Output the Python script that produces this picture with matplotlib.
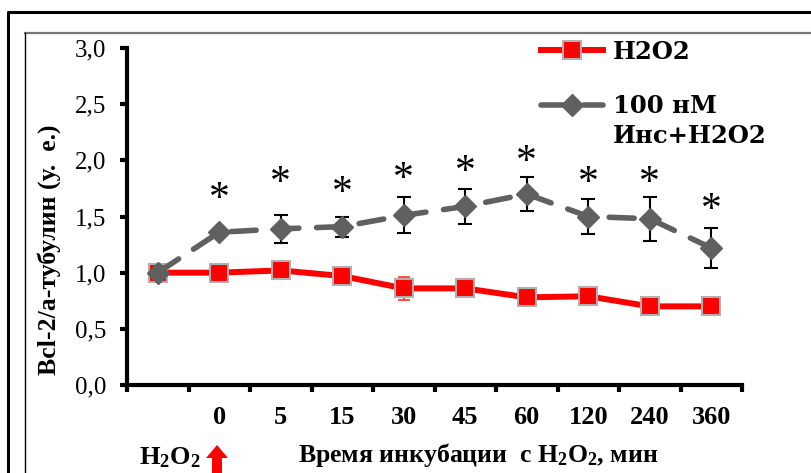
import matplotlib
matplotlib.use('Agg')
import matplotlib.pyplot as plt
from matplotlib.lines import Line2D
import numpy as np

plt.rcParams['font.family'] = 'Liberation Serif'
plt.rcParams['mathtext.fontset'] = 'custom'
plt.rcParams['mathtext.rm'] = 'Liberation Serif:bold'
plt.rcParams['mathtext.bf'] = 'Liberation Serif:bold'
plt.rcParams['mathtext.it'] = 'Liberation Serif:bold'

# данные
time_labels = ['', '0', '5', '15', '30', '45', '60', '120', '240', '360']
h2o2 = [1.00, 1.00, 1.02, 0.97, 0.86, 0.86, 0.78, 0.79, 0.70, 0.70]
h2o2_err = [0.03, 0.03, 0.04, 0.04, 0.10, 0.04, 0.05, 0.04, 0.03, 0.03]
ins = [1.00, 1.36, 1.39, 1.41, 1.51, 1.59, 1.70, 1.50, 1.48, 1.22]
ins_err = [0.03, 0.03, 0.125, 0.09, 0.16, 0.155, 0.155, 0.155, 0.195, 0.18]
star_y = [None, 1.65, 1.79, 1.70, 1.83, 1.89, 1.98, 1.79, 1.79, 1.55]

x = np.arange(len(time_labels))

fig = plt.figure(figsize=(8.11, 4.73), dpi=100)
ax = fig.add_axes([127 / 811, 1 - 385 / 473, (742 - 127) / 811, (385 - 48) / 473])

# рамки
fig.add_artist(Line2D([8 / 811, 8 / 811, 1], [0, 1 - 12 / 473, 1 - 12 / 473],
                      transform=fig.transFigure, color='black', lw=2.2))
fig.add_artist(Line2D([25 / 811, 1], [1 - 33 / 473, 1 - 33 / 473],
                      transform=fig.transFigure, color='#777777', lw=1.6))
fig.add_artist(Line2D([25 / 811, 25 / 811], [0, 1 - 33 / 473],
                      transform=fig.transFigure, color='black', lw=1.0))

ax.errorbar(x, h2o2, yerr=h2o2_err, fmt='none', ecolor='#ff3030', elinewidth=1.2,
            capsize=4, capthick=1.2, zorder=2)
ax.errorbar(x, ins, yerr=ins_err, fmt='none', ecolor='black', elinewidth=1.5,
            capsize=5, capthick=1.5, zorder=2)
ax.plot(x, h2o2, color='#ff0000', lw=4.3, marker='s', ms=13, mfc='#ff0000',
        mec='#b0b0b0', mew=1.5, label='H2O2', zorder=3)
ax.plot(x, ins, color='#606060', lw=4, ls=(0, (4.5, 3.2)), marker='D', ms=11.5,
        mfc='#606060', mec='#606060', label='100 нМ', zorder=4,
        dash_capstyle='round')

for xi, sy in zip(x, star_y):
    if sy is not None:
        ax.text(xi, sy, '*', ha='center', va='center', fontsize=30, color='black')

ax.set_xlim(-0.5, len(x) - 0.5)
ax.set_ylim(0, 3.0)
ax.set_yticks(np.arange(0, 3.01, 0.5))
ax.set_yticklabels([f'{v:.1f}'.replace('.', ',') for v in np.arange(0, 3.01, 0.5)],
                   fontsize=18)
ax.set_xticks(x)
ax.set_xticklabels(time_labels, fontsize=19, fontweight='bold')
ax.set_xticks(np.arange(-0.5, len(x)), minor=True)
ax.tick_params(axis='x', which='major', length=0, pad=15)
ax.tick_params(axis='x', which='minor', length=5, width=3, direction='out')
ax.tick_params(axis='y', length=5, width=3, direction='out', pad=10)

for s in ['top', 'right']:
    ax.spines[s].set_visible(False)
for s in ['left', 'bottom']:
    ax.spines[s].set_linewidth(3)

leg_font = {'family': 'DejaVu Serif', 'weight': 'bold', 'size': 17.5}
leg = ax.legend(loc='upper left', bbox_to_anchor=(541 / 811, 1 - 40 / 473),
                bbox_transform=fig.transFigure, frameon=False, prop=leg_font,
                handlelength=2.55, labelspacing=1.25, handletextpad=0.4,
                borderpad=0, borderaxespad=0)

# вторая строка подписи второй серии
fig.canvas.draw()
bb = leg.get_texts()[1].get_window_extent()
fig.text(bb.x0 / fig.bbox.width, (bb.y0 - 18) / fig.bbox.height, 'Инс+H2O2',
         ha='left', va='center', fontfamily='DejaVu Serif', fontweight='bold',
         fontsize=17.5)

fig.text(49 / 811, 1 - 250 / 473, 'Bcl-2/a-тубулин (у.  е.)', rotation=90,
         ha='center', va='center', fontsize=18.5, fontweight='bold')
fig.text(478 / 811, 1 - 455 / 473, 'Время инкубации  с H$_2$O$_2$, мин',
         ha='center', va='center', fontsize=18.5, fontweight='bold')
fig.text(170 / 811, 1 - 458 / 473, 'H$_2$O$_2$', ha='center', va='center',
         fontsize=19, fontweight='bold')
fig.add_artist(plt.Polygon([[212 / 811, 0], [222 / 811, 0], [222 / 811, 1 - 458 / 473],
                            [228 / 811, 1 - 458 / 473], [217 / 811, 1 - 445 / 473],
                            [206 / 811, 1 - 458 / 473], [212 / 811, 1 - 458 / 473]],
                           closed=True, transform=fig.transFigure, color='#ff0000', lw=0))

fig.savefig('out.png', dpi=100)
